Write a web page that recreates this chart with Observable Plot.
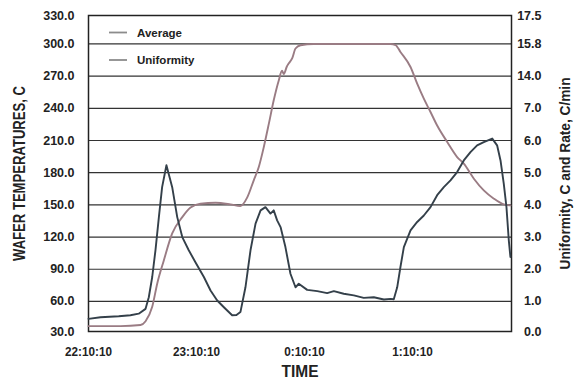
<!DOCTYPE html>
<html><head><meta charset="utf-8">
<script src="https://cdn.jsdelivr.net/npm/d3@7"></script>
<script src="https://cdn.jsdelivr.net/npm/@observablehq/plot@0.6"></script>
<style>
html,body{margin:0;padding:0;background:#fff;}
</style></head><body><div id="chart"></div>
<script>
// ---- tick labels ----
const timeTicks = [0, 60, 120, 180];               // minutes since 22:10:10
const timeLabels = ["22:10:10", "23:10:10", "0:10:10", "1:10:10"];
const gridValues = [300, 270, 240, 210, 180, 150, 120, 90, 60];
const leftLabels = ["330.0", "300.0", "270.0", "240.0", "210.0", "180.0", "150.0", "120.0", "90.0", "60.0", "30.0"];
const rightLabels = ["17.5", "15.8", "14.0", "7.0", "6.0", "5.0", "4.0", "3.0", "2.0", "1.0", "0.0"];
const seriesNames = ["Average", "Uniformity"];

// ---- Average wafer temperature (C) ----
const avgT = [0, 17.8, 28.9, 31.7, 35.4, 38.2, 41.8, 46.5, 52.1, 56.7, 62.2, 70.6, 78.9, 84.4, 88.2, 91.8, 94.6, 97.4, 100.2, 102.9, 105.7, 107.5, 108.5, 110.2, 111.3, 113.2, 115, 117.8, 125, 167.8, 170.6, 173.3, 178.9, 182.6, 186.3, 190, 193.7, 199.3, 204.8, 208.5, 214.1, 219.6, 225.2, 230.7, 234.4];
const avgV = [37, 37, 38, 41.6, 55, 76.8, 98, 123.4, 138.6, 147.5, 151, 152, 150.5, 149, 157, 172.9, 185.3, 204, 225.7, 247.5, 266, 275, 272, 279, 282, 286.7, 295.7, 298.8, 300, 300, 299, 292.5, 278.5, 263, 249, 236.6, 224, 208.6, 194.6, 188.4, 174.4, 163.5, 155.8, 150.5, 149.5];

// ---- Uniformity (C, right axis) ----
const uniT = [0, 6.7, 16.8, 23.3, 27.9, 31.7, 33.5, 35.4, 37.2, 39.1, 40.9, 43.3, 46.5, 49.3, 52.1, 55.7, 59.4, 64.1, 67.8, 71.5, 75.2, 79.8, 82.2, 84.4, 87.2, 90, 92.8, 95.6, 98.3, 101.1, 102.9, 104.8, 106.7, 109.4, 112.2, 115, 116.8, 121.5, 127.1, 132.6, 136.3, 141.8, 147.4, 152.9, 158.5, 164.1, 167.8, 169.6, 171.5, 173.3, 175.2, 178.9, 182.6, 186.3, 190, 193.7, 197.4, 201.1, 204.8, 208.5, 212.2, 215.9, 219.6, 224.3, 227, 228.9, 230.7, 232.2, 233.5, 234.4];
const uniV = [0.46, 0.51, 0.54, 0.57, 0.62, 0.77, 1.13, 1.76, 2.59, 3.62, 4.55, 5.23, 4.55, 3.62, 3.0, 2.59, 2.22, 1.76, 1.34, 1.03, 0.82, 0.57, 0.58, 0.67, 1.44, 2.59, 3.42, 3.83, 3.93, 3.73, 3.83, 3.52, 3.31, 2.69, 1.86, 1.44, 1.55, 1.36, 1.32, 1.26, 1.32, 1.24, 1.19, 1.11, 1.13, 1.06, 1.08, 1.07, 1.44, 2.07, 2.69, 3.21, 3.47, 3.67, 3.93, 4.30, 4.55, 4.76, 5.02, 5.38, 5.64, 5.85, 5.95, 6.06, 5.85, 5.38, 4.66, 3.93, 2.90, 2.38];

const avg = avgT.map((t, i) => ({t, v: avgV[i]}));
const uni = uniT.map((t, i) => ({t, r: uniV[i]}));

const FONT = "'Liberation Sans', Arial, sans-serif";
const AVG_COLOR = "#9a7c84";
const UNI_COLOR = "#34404a";

const yDomain = [32, 326.5];
const yTicks = [yDomain[1], ...gridValues, yDomain[0]];
const leftMap = new Map(yTicks.map((v, i) => [v, leftLabels[i]]));
const rightMap = new Map(yTicks.map((v, i) => [v, rightLabels[i]]));
const timeMap = new Map(timeTicks.map((v, i) => [v, timeLabels[i]]));

const titleLeft = "WAFER TEMPERATURES, C";
const titleRight = "Uniformity, C and Rate, C/min";
const titleX = "TIME";

function legendMark(index, scales, values, dims) {
  const g = d3.create("svg:g");
  const x0 = dims.marginLeft, y0 = dims.marginTop;
  seriesNames.forEach((name, i) => {
    const y = y0 + 17.5 + i * 27.5;
    g.append("line").attr("x1", x0 + 21).attr("x2", x0 + 39).attr("y1", y).attr("y2", y)
      .attr("stroke", "#8c8c8c").attr("stroke-width", 1.8);
    g.append("text").attr("x", x0 + 49).attr("y", y).attr("dy", "0.36em")
      .attr("text-anchor", "start")
      .attr("font-family", FONT).attr("font-weight", "bold").attr("font-size", 11.5)
      .attr("fill", "#222").text(name);
  });
  return g.node();
}

const titleOpts = {fontWeight: "bold", fill: "#222", textAnchor: "middle", lineAnchor: "middle"};

const chart = Plot.plot({
  width: 579, height: 381,
  marginLeft: 88, marginRight: 68, marginTop: 15, marginBottom: 50,
  style: {fontFamily: FONT, fontWeight: "bold", fontSize: "12.5px", color: "#222", background: "#fff", overflow: "visible"},
  x: {domain: [0, 235]},
  y: {domain: yDomain},
  marks: [
    Plot.ruleY(gridValues, {stroke: "#333", strokeWidth: 1.2}),
    Plot.frame({stroke: "#222", strokeWidth: 1.5}),
    Plot.line(avg, {x: "t", y: "v", stroke: AVG_COLOR, strokeWidth: 1.9, curve: "monotone-x"}),
    Plot.line(uni, {x: "t", y: d => 30 + 30 * d.r, stroke: UNI_COLOR, strokeWidth: 1.9}),
    Plot.axisY({anchor: "left", ticks: yTicks, tickSize: 0, tickPadding: 14, tickFormat: d => leftMap.get(d), label: null, fontSize: 12.5}),
    Plot.axisY({anchor: "right", ticks: yTicks, tickSize: 0, tickPadding: 30, textAnchor: "end", tickFormat: d => rightMap.get(d), label: null, fontSize: 12.5}),
    Plot.axisX({ticks: timeTicks, tickSize: 0, tickPadding: 15, tickFormat: d => timeMap.get(d), label: null, fontSize: 13.5}),
    Plot.text([titleLeft], {frameAnchor: "left", dx: -68.5, rotate: -90, fontSize: 16, ...titleOpts}),
    Plot.text([titleRight], {frameAnchor: "right", dx: 54, rotate: -90, fontSize: 15.5, ...titleOpts}),
    Plot.text([titleX], {frameAnchor: "bottom", dy: 40, fontSize: 16, ...titleOpts}),
    legendMark
  ]
});
document.getElementById("chart").appendChild(chart);

// emulate the condensed typeface of the original
const targetLen = new Map([[titleLeft, 175], [titleRight, 192], [titleX, 37]]);
chart.querySelectorAll("text").forEach(el => {
  const s = el.textContent;
  if (targetLen.has(s)) {
    el.setAttribute("textLength", targetLen.get(s));
    el.setAttribute("lengthAdjust", "spacingAndGlyphs");
  } else if (timeLabels.includes(s)) {
    const L = el.getComputedTextLength();
    el.setAttribute("textLength", (L * 0.87).toFixed(1));
    el.setAttribute("lengthAdjust", "spacingAndGlyphs");
  }
});
</script>
</body></html>
